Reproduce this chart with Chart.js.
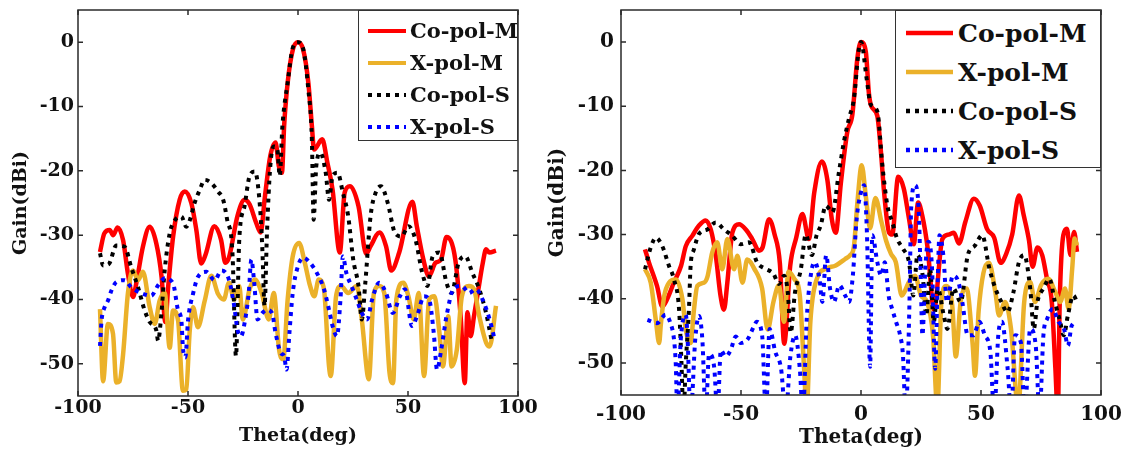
<!DOCTYPE html>
<html>
<head>
<meta charset="utf-8">
<script src="https://cdn.jsdelivr.net/npm/chart.js@4.4.0/dist/chart.umd.min.js"></script>
<style>
  body { margin: 0; background: #fff; width: 1131px; height: 457px; overflow: hidden; position: relative; }
  canvas { position: absolute; top: 0; }
  #chartL { left: 0; }
  #chartR { left: 540px; }
  .legend { position: absolute; background: #fff; border: 1px solid #333; box-sizing: border-box; }
  .legend .row { position: absolute; display: flex; align-items: center; font-family: "DejaVu Serif", serif; font-weight: bold; color: #111; white-space: nowrap; }
  .legend svg { display: block; }
</style>
</head>
<body>
<canvas id="chartL" width="540" height="457"></canvas>
<canvas id="chartR" width="591" height="457"></canvas>
<div class="legend" id="legendL"></div>
<div class="legend" id="legendR"></div>
<script>
// Tick labels
const xTicks = [-100, -50, 0, 50, 100];
const yTicks = [0, -10, -20, -30, -40, -50];
const seriesNames = ['Co-pol-M', 'X-pol-M', 'Co-pol-S', 'X-pol-S'];

// ---- Left pattern ----
const thetaL_coM = [-90,-88,-85.6,-84,-82,-79.5,-77.3,-75,-73.5,-70.5,-67.4,-64.4,-62,-60.3,-59,-56.8,-53.8,-51.5,-48.5,-46.2,-44,-42,-38,-35,-33,-31.4,-27.5,-24.3,-22,-19,-17,-15,-12.6,-10.2,-8.7,-7.3,-6.3,-4.7,-2.3,0,2.3,4.7,6.3,7.3,11,13.4,15.7,19,21.2,23.6,27.5,31,33,37,40,42.4,46,52,54,57,59.5,62.5,65,67.5,71.5,74,75.8,77,78.5,80,82,84,85.5,87,90];
const gainL_coM = [-32.6,-29.7,-29.2,-30,-28.8,-30.8,-36,-39.6,-37.5,-31.8,-28.7,-31.3,-36.5,-43.5,-38,-30.3,-24.5,-23.2,-25,-29.2,-34.4,-33,-28.6,-30.7,-34.3,-33.5,-27,-24.5,-25.2,-28.1,-29.6,-23.9,-17.7,-15.6,-19.3,-20.3,-13,-6.3,-1.1,0,-1.1,-6.3,-13,-16.7,-15.1,-18.8,-22.9,-32.7,-23.4,-22.4,-25.5,-32.9,-31.7,-29.6,-31.7,-35.5,-32.7,-24.8,-28.6,-33.8,-36.4,-34.3,-33.8,-30.3,-33.8,-43,-53,-42,-45.7,-42.6,-38.4,-34.3,-32.2,-32.7,-32.4];

const thetaL_xM = [-90,-88.6,-86.4,-84.1,-82.6,-81.1,-79.5,-77.3,-75,-72.7,-70.5,-67.4,-65.1,-62.9,-60.6,-58.3,-56.8,-54.5,-52.3,-50.8,-49.2,-47.7,-45.5,-42.4,-39.4,-36.4,-33.7,-31.4,-29,-26.7,-25.1,-22,-19.6,-16.5,-13.3,-11,-8.6,-6.7,-4.7,-2.4,0.5,3.1,5.5,7.4,9.4,11.8,14.1,14.9,17.3,19.6,22.8,26.7,29,32.2,34.5,36.9,39.2,41.6,43.2,44.7,47.9,50.2,52.6,54.9,57.3,59.6,62,64.3,65.9,68.3,69.8,72.2,74.5,77.7,80,82.4,85.5,87.1,90];
const gainL_xM = [-41.5,-52.7,-43.8,-45.3,-52.9,-52.7,-48.5,-39,-35.5,-37,-35.7,-41.2,-43.8,-40.2,-39,-47.5,-41.7,-43.3,-54.2,-54,-44.8,-41.2,-44.3,-40.2,-36.3,-39.1,-40,-37.4,-40,-37.9,-43.1,-38.4,-36.9,-39,-43.1,-39,-47.8,-49.3,-40,-33.3,-31.2,-34.3,-37.9,-39.5,-36.9,-38.4,-50.4,-51.9,-39.5,-37.9,-39,-37.9,-43.1,-52.4,-39,-37.9,-39,-51.4,-53,-40,-37.4,-39.5,-43.1,-39,-51.9,-40,-39.5,-45.2,-50.4,-42.6,-50.4,-47.8,-39.5,-37.9,-38.4,-42.6,-46.7,-47.3,-41];

const thetaL_coS = [-90,-88.6,-86,-82.6,-78.8,-75.8,-72.7,-69.7,-67.4,-64.4,-63.6,-62.1,-60.6,-58.3,-56,-53,-50.8,-49.2,-47,-44.7,-42.4,-39.4,-36.4,-34,-32.2,-29.8,-28.2,-26.7,-24.3,-22,-19.6,-17.3,-16.2,-15.2,-14.1,-12.6,-11,-9.4,-8.3,-7.1,-4.7,-2.4,0,2.4,4.7,6.3,7.1,8.3,10.2,12.6,14.1,15.7,18,20.4,22.8,25.1,27.5,29,30.6,33,35.3,37.7,40.8,44,47.1,50.2,53.4,56.5,58.8,61.2,64.3,67.5,69.8,73,76.1,79.3,82.4,85.5,87.9];
const gainL_coS = [-32.8,-34.7,-34.5,-31.6,-31.8,-35,-38.1,-41.7,-43.5,-44.8,-46.4,-42.2,-35.5,-29.7,-27.7,-27.1,-28.7,-27.7,-25,-23,-21.4,-21.9,-23.2,-24.5,-27.6,-32.7,-48.8,-30.7,-25.5,-20.8,-20.1,-25.5,-32.2,-41,-29.6,-19.3,-16.2,-16.7,-20.8,-13.1,-6.3,-0.9,0,-1.1,-7.4,-15.1,-27.6,-19.3,-17.2,-20.3,-24.5,-20.8,-20.3,-23.4,-27,-33.8,-37.9,-43.1,-37.4,-27,-23.4,-22.4,-25,-29.6,-30.2,-28.6,-30.7,-35.9,-37.9,-33.3,-32.7,-37.4,-39,-34.3,-33.3,-35.9,-38.4,-42.1,-46.2];

const thetaL_xS = [-90,-89.3,-87.9,-86.4,-84.8,-82.6,-78.8,-75.8,-70.5,-66.7,-63.6,-60.6,-56.8,-54.5,-53,-52.3,-51.2,-50,-47.7,-45.5,-41.7,-37.9,-34.8,-31.4,-29,-27.5,-25.9,-24,-22.4,-21.2,-19.9,-18.4,-16.2,-14.1,-11.8,-10.2,-7.8,-6.3,-5.2,-3.9,-2.4,0,2.4,5.5,8.6,11.8,14.1,15.7,17.7,19.3,20.4,22,24.3,26.7,29,31.4,33.7,36.9,40,43.1,46.3,48.6,51.8,54.1,57.3,59.6,61.7,63.2,65.1,67.5,70.6,74.5,77.7,80.8,83.9,87.1,89.4];
const gainL_xS = [-47.2,-43.3,-41.2,-40.2,-38.6,-37.3,-37,-38.1,-39.1,-39.4,-37.8,-36.7,-37.5,-41.7,-43.3,-47.5,-49,-43.3,-39.1,-36.5,-35.7,-37,-35.5,-36.9,-41,-44.7,-45.7,-43.1,-39,-33.8,-37.4,-43.1,-42.1,-41.6,-42.1,-45.2,-48.3,-48.8,-50.9,-45.2,-39,-34.8,-33.5,-34.3,-35.9,-38.4,-41.6,-44.1,-45.7,-40,-33.3,-35.9,-37.9,-40,-42.1,-43.1,-40,-37.4,-39,-42.1,-39.5,-38.4,-44.1,-42.6,-39.5,-40,-45.2,-50.9,-47.8,-42.6,-38.4,-37.9,-39,-38.4,-40,-43.1,-46.2];

// ---- Right pattern ----
const thetaR_coM = [-90,-88.3,-85,-82.8,-80.7,-78,-75,-73,-70.3,-67.5,-64.7,-62.6,-60.5,-58.5,-57.1,-55.7,-53.6,-50.8,-48,-45.3,-42.5,-41,-38.3,-36,-33.8,-32,-29.5,-27,-24.4,-21.7,-19.5,-16.3,-14,-12.2,-10.5,-8.4,-5.7,-3.6,-1.5,0,2,3.3,4.3,6.8,8.2,9.6,11.7,13,15.5,17.8,20,22,23.8,25.5,27.8,30.4,33.9,36.5,38.7,40.8,43.5,47,49.5,52.5,55.5,58.2,60.5,63,65.8,67.8,70,71.5,73.5,75.5,77.5,79.5,81,82,82.8,84.3,85.8,87.3,88.8,90];
const gainR_coM = [-32.3,-34.4,-38,-41.2,-40,-37.5,-34.9,-31.8,-30.2,-28.6,-27.8,-29.2,-33.3,-39.6,-41.7,-37.5,-29.7,-28.4,-29.2,-30.7,-32.5,-32,-27.6,-30,-34.5,-47,-34.9,-30.5,-26.8,-30.7,-23.5,-18.6,-21.5,-27.5,-29.7,-22,-14,-11.3,-2.5,0,-1.5,-8,-10,-11.5,-16.6,-23.3,-29.7,-30,-21,-22.8,-27.5,-31.5,-25,-27,-32.2,-41.7,-30.7,-30,-29.7,-31.4,-28,-24.4,-25.5,-29.1,-30.5,-34.4,-33,-30,-23.9,-27,-30.9,-35,-32,-33.2,-36.9,-40.5,-50.9,-58,-40.5,-30.1,-29.1,-33.2,-29.6,-32.7];

const thetaR_xM = [-90,-87.6,-85.5,-84.1,-83.4,-82,-80,-77.2,-74.4,-73,-71,-69.6,-68.2,-65.4,-64,-62,-59.9,-57.8,-55.7,-52.9,-51.5,-49.4,-47.4,-44.5,-41.2,-38.9,-36.5,-34.2,-32.1,-30.2,-27.8,-25.5,-24,-22.6,-21.1,-18.4,-14.5,-10.5,-6.6,-4.5,-3,-1.5,0.3,2,3.8,6,8.5,10.5,12.5,14.5,17,20,22.5,25,27.5,30,31.8,33.5,35.5,38,39.5,41.5,44,46.5,47.5,49,51,53.3,56,57.5,60,62.5,65.5,68,70.5,72.5,75,78,81,83,85,86.5,88,89,90];
const gainR_xM = [-35.4,-37.5,-43.3,-46.9,-44,-39.6,-37.5,-37,-40.1,-44.8,-46.9,-41.7,-38,-37.5,-36.6,-32.8,-31.2,-35.4,-30.7,-35.4,-33.3,-37.5,-33.9,-35.3,-38.4,-44.8,-40.5,-37.9,-43.6,-35.8,-36.9,-39.5,-48.9,-57,-43.6,-36.9,-35.3,-34.8,-33.8,-33.2,-32,-25,-19.2,-24,-29,-24.3,-28,-31,-33,-34.3,-39.5,-37.4,-36.4,-39.5,-40.5,-45.7,-57,-40.5,-38,-41,-49,-40.5,-38.4,-47,-52,-42,-36,-34.4,-39,-42.6,-40.5,-44.7,-57,-40.5,-37.4,-40.5,-37.9,-36.9,-39,-40.5,-38.4,-41.6,-35.3,-30.6,-31.7];

const thetaR_coS = [-90,-87.6,-85.5,-82.8,-80,-77.9,-75.8,-74.8,-74,-73,-71.7,-71,-69.6,-67.5,-64,-60.5,-57.1,-53.6,-50.1,-46.7,-43.2,-40,-36.5,-34.2,-32,-30.5,-29.3,-27.5,-25.1,-23,-20.5,-18.5,-16.8,-14.7,-11.9,-9.2,-7.1,-5,-2.9,-1,0,2.5,4,6.8,8.9,11,13,15.1,17.5,20,21.8,23.5,25.7,27.2,28.8,30.3,32,34.5,36,38.5,41.5,44.5,47.5,50.5,53.5,56,58.5,61,63.5,65.8,68,70.5,72,73.5,76,78.5,80.8,83,84.5,86.2,88.5,90];
const gainR_coS = [-35.4,-32,-30.5,-31.8,-34.9,-37,-41.7,-50,-58,-50,-41.7,-34.9,-32.3,-29.9,-29.2,-28.1,-29.2,-30.2,-31.5,-31.2,-34.4,-35.3,-36.1,-37.7,-36.4,-39,-45.3,-39,-35.5,-30,-33.2,-30.1,-28.6,-25.5,-26.5,-20.3,-15.5,-11.9,-8.7,-1.4,0,-6.1,-9.7,-10.8,-19.2,-25.5,-28,-30.7,-32.2,-34.3,-39.5,-33.2,-36.4,-42.6,-35.3,-43.6,-38.4,-42.6,-44.7,-38.4,-40.5,-33.2,-31.7,-30.1,-35.3,-38.4,-40.5,-42.1,-39,-34.3,-33.2,-38.4,-44.7,-40.5,-38.4,-36.9,-40.5,-43.6,-45.7,-42.6,-39.5,-40.5];

const thetaR_xS = [-89,-85,-81.4,-79.4,-77.9,-77.2,-76.5,-75.1,-73,-72.3,-71,-69,-67.5,-66.1,-64.7,-63.3,-61.2,-59.8,-58.4,-56.4,-54.3,-52.2,-50.1,-47.4,-44.6,-43.5,-41.2,-39.6,-38.1,-35.7,-33.3,-31.4,-29.4,-27.4,-25.5,-24.2,-22.6,-20.7,-19.2,-17.3,-16.1,-14.5,-12.9,-11.3,-9,-6.6,-5,-3.4,-1.8,0,1.3,2.5,3.8,4.7,6.8,8.4,9.9,11.5,13,14.6,16.3,17.5,18.6,20.2,20.9,22.5,24,24.8,25.6,26.8,28,29.6,30.9,31.9,32.7,34.3,35.8,38.3,40.6,42.2,44.5,46.9,49.3,51.6,53.9,55.5,57.2,58.7,61.1,62.6,64.2,66.6,68.2,70.5,72.8,74.4,76,77.6,79.9,82.3,84.6,86.2,87.8,90];
const gainR_xS = [-43.3,-43.8,-42.5,-43.8,-46.4,-50,-58,-46.4,-42.5,-45.9,-58,-46,-42.7,-46.4,-58,-48.6,-50.6,-58,-48,-49,-48,-45.9,-46.9,-46.4,-44.3,-43.6,-45.7,-58,-44.7,-48.3,-50.9,-58,-48.9,-45.7,-50.9,-58,-43.1,-35.8,-34.3,-36.9,-40.5,-33.2,-38.4,-40.5,-37.9,-39.5,-40.5,-36.4,-27.5,-23.4,-22.3,-30.1,-50.6,-30.1,-34.3,-36.4,-34.3,-39.5,-41.6,-43.6,-45.7,-48.9,-58,-40.5,-25.9,-22.3,-25.9,-35.3,-45.7,-35.3,-31.1,-35.3,-50.9,-37.9,-30.1,-33.2,-40.5,-36.4,-37.4,-40.5,-45.7,-45.7,-43.6,-45.7,-48.3,-58,-45.7,-43.6,-50.9,-58,-45.7,-46.8,-58,-44.7,-47.3,-58,-45.7,-43.1,-41.6,-43.6,-44.7,-47.3,-44.2,-43.6];

const colors = ['#ff0000', '#ebb12a', '#000000', '#0000ff'];
const widths = [4.5, 4.5, 4, 4];
const dashes = [[], [], [4, 5], [4, 5]];

function series(i, thetas, gains) {
  return {
    label: seriesNames[i],
    data: thetas.map((t, k) => ({ x: t, y: gains[k] })),
    borderColor: colors[i],
    borderWidth: widths[i],
    borderDash: dashes[i],
    pointRadius: 0,
    fill: false,
    cubicInterpolationMode: 'monotone',
    order: 3 - i,
    clip: 0
  };
}

// Box with inward ticks, like the original axes
const boxPlugin = {
  id: 'box',
  afterDraw(chart) {
    const { ctx, chartArea: a, scales: { x, y } } = chart;
    ctx.save();
    ctx.strokeStyle = '#2a2a2a';
    ctx.lineWidth = 1.5;
    ctx.strokeRect(a.left, a.top, a.right - a.left, a.bottom - a.top);
    ctx.beginPath();
    xTicks.forEach(v => {
      const px = x.getPixelForValue(v);
      ctx.moveTo(px, a.bottom); ctx.lineTo(px, a.bottom - 5);
      ctx.moveTo(px, a.top); ctx.lineTo(px, a.top + 5);
    });
    yTicks.forEach(v => {
      const py = y.getPixelForValue(v);
      ctx.moveTo(a.left, py); ctx.lineTo(a.left + 5, py);
      ctx.moveTo(a.right, py); ctx.lineTo(a.right - 5, py);
    });
    ctx.stroke();
    ctx.restore();
  }
};

function makeChart(id, datasets, cfg) {
  const font = size => ({ family: '"DejaVu Serif", serif', weight: 'bold', size: size, lineHeight: 1.2 });
  return new Chart(document.getElementById(id), {
    type: 'line',
    data: { datasets },
    options: {
      responsive: false,
      animation: false,
      events: [],
      layout: { padding: { top: 10, right: cfg.padRight, left: 0, bottom: 0 } },
      plugins: { legend: { display: false }, tooltip: { enabled: false } },
      scales: {
        x: {
          type: 'linear', min: -100, max: 100,
          afterBuildTicks: s => { s.ticks = xTicks.map(v => ({ value: v })); },
          afterFit: s => { s.height = cfg.xHeight; s.paddingLeft = 0; s.paddingRight = 0; },
          grid: { display: false, drawTicks: false },
          border: { display: false },
          ticks: { font: font(cfg.tickSize), color: '#111', padding: cfg.xTickPad, maxRotation: 0, autoSkip: false },
          title: { display: true, text: 'Theta(deg)', font: font(cfg.titleSize), color: '#111', padding: { top: 0, bottom: cfg.xTitlePad } }
        },
        y: {
          type: 'linear', min: -55, max: 5,
          afterBuildTicks: s => { s.ticks = yTicks.map(v => ({ value: v })); },
          afterFit: s => { s.width = cfg.yWidth; s.paddingTop = 0; s.paddingBottom = 0; },
          grid: { display: false, drawTicks: false },
          border: { display: false },
          ticks: { font: font(cfg.tickSize), color: '#111', padding: cfg.yTickPad, autoSkip: false },
          title: { display: true, text: 'Gain(dBi)', font: font(cfg.titleSize), color: '#111', padding: { top: cfg.yTitlePad, bottom: 0 } }
        }
      }
    },
    plugins: [boxPlugin]
  });
}

function buildLegend(id, box) {
  const el = document.getElementById(id);
  Object.assign(el.style, { left: box.left + 'px', top: box.top + 'px', width: box.width + 'px', height: box.height + 'px' });
  seriesNames.forEach((name, i) => {
    const row = document.createElement('div');
    row.className = 'row';
    row.style.left = box.sampleX + 'px';
    row.style.fontSize = box.fontSize + 'px';
    row.style.height = Math.round(box.fontSize * 1.2) + 'px';
    row.style.top = Math.round(box.rows[i] - box.fontSize * 0.6) + 'px';
    const dash = dashes[i].length ? `stroke-dasharray="${dashes[i].join(' ')}"` : '';
    row.innerHTML = `<svg width="${box.sampleW}" height="8"><line x1="0" y1="4" x2="${box.sampleW}" y2="4" stroke="${colors[i]}" stroke-width="${box.lineW}" ${dash}/></svg><span style="margin-left:${box.gap}px">${name}</span>`;
    el.appendChild(row);
  });
}

document.addEventListener('DOMContentLoaded', () => {
  makeChart('chartL', [
    series(0, thetaL_coM, gainL_coM),
    series(1, thetaL_xM, gainL_xM),
    series(2, thetaL_coS, gainL_coS),
    series(3, thetaL_xS, gainL_xS)
  ], { padRight: 22, xHeight: 61, yWidth: 78, tickSize: 19, titleSize: 19, xTickPad: 1, yTickPad: 4, xTitlePad: 10, yTitlePad: 10 });

  makeChart('chartR', [
    series(0, thetaR_coM, gainR_coM),
    series(1, thetaR_xM, gainR_xM),
    series(2, thetaR_coS, gainR_coS),
    series(3, thetaR_xS, gainR_xS)
  ], { padRight: 30, xHeight: 62, yWidth: 81, tickSize: 20, titleSize: 20, xTickPad: 8, yTickPad: 7, xTitlePad: 7, yTitlePad: 6 });

  buildLegend('legendL', { left: 358, top: 10, width: 160, height: 131, sampleX: 9, sampleW: 38, gap: 4, fontSize: 21, lineW: 4, rows: [20, 52, 84, 116] });
  buildLegend('legendR', { left: 895, top: 10, width: 206, height: 158, sampleX: 10, sampleW: 47, gap: 5, fontSize: 25, lineW: 4.5, rows: [22, 61, 100, 139] });
});
</script>
</body>
</html>
